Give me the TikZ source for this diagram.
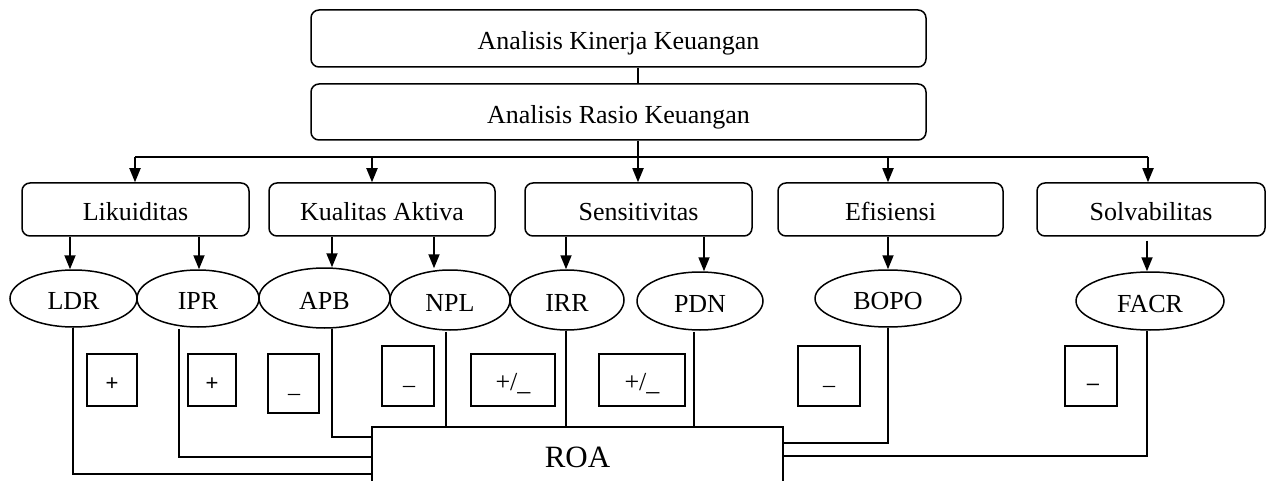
\documentclass[tikz,border=0pt]{standalone}
\usepackage{fontspec}
\setmainfont{Liberation Serif}
\newfontfamily\signfont{Liberation Sans}
\usetikzlibrary{shapes.geometric,arrows.meta}

\begin{document}
\begin{tikzpicture}[x=1pt,y=-1pt,
  rbox/.style={draw, line width=1.5pt, rounded corners=8pt, inner sep=0pt,
               text height=22.5pt, text depth=0pt,
               font=\fontsize{26}{30}\selectfont},
  ratio/.style={draw, ellipse, line width=1.5pt, inner sep=0pt,
                text height=22pt, text depth=0pt,
                font=\fontsize{26}{30}\selectfont},
  signbox/.style={draw, line width=1.5pt, inner sep=0pt},
  signsans/.style={inner sep=0pt, anchor=base, font=\signfont\fontsize{22}{26}\selectfont},
  signserif/.style={inner sep=0pt, anchor=base, font=\fontsize{24}{28}\selectfont},
  arr/.style={-{Triangle[width=11pt,length=14pt]}, line width=1.8pt},
  link/.style={line width=1.5pt},
]
\useasboundingbox (0,0) rectangle (1269,481);

% top of the hierarchy
\node[rbox, minimum width=615pt, minimum height=57pt] (kin) at (618.5,38.5) {Analisis Kinerja Keuangan};
\node[rbox, minimum width=615pt, minimum height=56pt] (ras) at (618.5,112) {Analisis Rasio Keuangan};

% ratio groups
\node[rbox, minimum width=227pt, minimum height=53pt] (lik) at (135.5,209.5) {Likuiditas};
\node[rbox, minimum width=226pt, minimum height=53pt] (kua) at (382,209.5) {Kualitas Aktiva};
\node[rbox, minimum width=227pt, minimum height=53pt] (sen) at (638.5,209.5) {Sensitivitas};
\node[rbox, minimum width=225pt, minimum height=53pt] (efi) at (890.5,209.5) {Efisiensi};
\node[rbox, minimum width=228pt, minimum height=53pt] (sol) at (1151,209.5) {Solvabilitas};

% individual ratios
\node[ratio, minimum width=127pt, minimum height=57pt] (ldr) at (73.5,298.5) {LDR};
\node[ratio, minimum width=122pt, minimum height=57pt] (ipr) at (198,298.5) {IPR};
\node[ratio, minimum width=131pt, minimum height=60pt] (apb) at (324.5,298) {APB};
\node[ratio, minimum width=120pt, minimum height=60pt] (npl) at (450,300) {NPL};
\node[ratio, minimum width=114pt, minimum height=60pt] (irr) at (567,300) {IRR};
\node[ratio, minimum width=126pt, minimum height=58pt] (pdn) at (700,301) {PDN};
\node[ratio, minimum width=146pt, minimum height=57pt] (bopo) at (888,298.5) {BOPO};
\node[ratio, minimum width=148pt, minimum height=58pt] (facr) at (1150,301) {FACR};

% dependent variable
\node[draw, line width=1.5pt, inner sep=0pt, minimum width=411pt, minimum height=60pt,
      font=\fontsize{31}{36}\selectfont] (roa) at (577.5,457) {ROA};

% expected signs
\node[signbox, minimum width=50pt, minimum height=52pt] (s1) at (112,380) {};
\node[signsans] (t1) at (112,390) {+};
\node[signbox, minimum width=48pt, minimum height=52pt] (s2) at (212,380) {};
\node[signsans] (t2) at (212,390) {+};
\node[signbox, minimum width=51pt, minimum height=59pt] (s3) at (293.5,383.5) {};
\node[signserif] (t3) at (294,392) {\_};
\node[signbox, minimum width=52pt, minimum height=60pt] (s4) at (408,376) {};
\node[signserif] (t4) at (409,384) {\_};
\node[signbox, minimum width=84pt, minimum height=52pt] (s5) at (513,380) {};
\node[signserif, font=\fontsize{26}{30}\selectfont] (t5) at (513,390) {+/\_};
\node[signbox, minimum width=86pt, minimum height=52pt] (s6) at (642,380) {};
\node[signserif, font=\fontsize{26}{30}\selectfont] (t6) at (642,390) {+/\_};
\node[signbox, minimum width=62pt, minimum height=60pt] (s7) at (829,376) {};
\node[signserif] (t7) at (829,384) {\_};
\node[signbox, minimum width=52pt, minimum height=60pt] (s8) at (1091,376) {};
\node[signsans] (t8) at (1093,390) {–};

% branching spine
\coordinate (spL) at (135,157);
\coordinate (spM) at (638,157);
\coordinate (spR) at (1148,157);
\draw[link] (kin.south -| spM) -- (ras.north -| spM);
\draw[link] (ras.south -| spM) -- (spM);
\draw[link] (spL) -- (spR);
\coordinate (spK) at (372,157);
\coordinate (spE) at (888,157);
\draw[arr] (spL) -- (lik.north -| spL);
\draw[arr] (spK) -- (kua.north -| spK);
\draw[arr] (spM) -- (sen.north -| spM);
\draw[arr] (spE) -- (efi.north -| spE);
\draw[arr] (spR) -- (sol.north -| spR);

% arrows from groups to ratios
\coordinate (a1) at (70,0);
\coordinate (a2) at (199,0);
\coordinate (a3) at (332,0);
\coordinate (a4) at (434,0);
\coordinate (a5) at (566,0);
\coordinate (a6) at (704,0);
\coordinate (a7) at (888,0);
\coordinate (a8) at (1147,0);
\draw[arr] (lik.south -| a1) -- (ldr.north -| a1);
\draw[arr] (lik.south -| a2) -- (ipr.north -| a2);
\draw[arr] (kua.south -| a3) -- (apb.north -| a3);
\draw[arr] (kua.south -| a4) -- ([yshift=1pt]npl.north -| a4);
\draw[arr] (sen.south -| a5) -- (irr.north -| a5);
\draw[arr] (sen.south -| a6) -- (pdn.north -| a6);
\draw[arr] (efi.south -| a7) -- (bopo.north -| a7);
\draw[arr, shorten <=4pt] (sol.south -| a8) -- (facr.north -| a8);

% links from ratios into ROA
\coordinate (d1) at (73,474);
\coordinate (d2) at (179,457);
\coordinate (d3) at (332,437);
\coordinate (d4) at (446,0);
\coordinate (d5) at (566,0);
\coordinate (d6) at (694,0);
\coordinate (d7) at (888,443);
\coordinate (d8) at (1147,456);
\draw[link] (ldr.south -| d1) -- (d1) -- (roa.west |- d1);
\draw[link] ([yshift=-1pt]ipr.south -| d2) -- (d2) -- (roa.west |- d2);
\draw[link] (apb.south -| d3) -- (d3) -- (roa.west |- d3);
\draw[link] ([yshift=-1pt]npl.south -| d4) -- (roa.north -| d4);
\draw[link] (irr.south -| d5) -- (roa.north -| d5);
\draw[link] ([yshift=-1pt]pdn.south -| d6) -- (roa.north -| d6);
\draw[link] (bopo.south -| d7) -- (d7) -- (roa.east |- d7);
\draw[link] (facr.south -| d8) -- (d8) -- (roa.east |- d8);
\end{tikzpicture}
\end{document}
